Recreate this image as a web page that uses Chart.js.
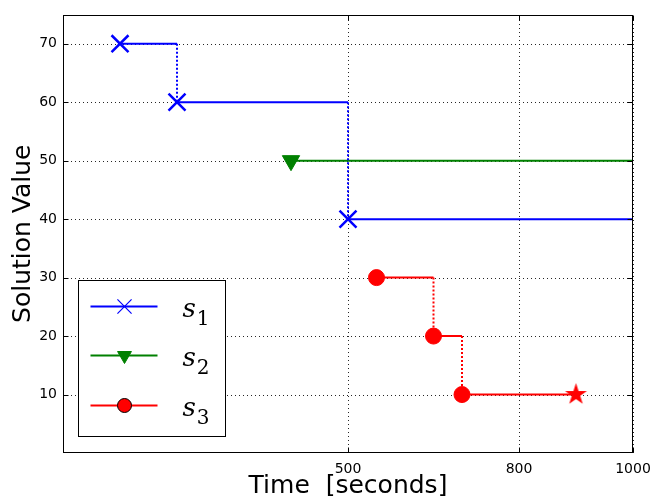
<!DOCTYPE html>
<html>
<head>
<meta charset="utf-8">
<script src="https://cdn.jsdelivr.net/npm/chart.js@4.4.0/dist/chart.umd.min.js"></script>
<style>
    html, body { margin: 0; padding: 0; background: #fff; }
    #wrap { width: 654px; height: 502px; }
</style>
</head>
<body>
<div id="wrap"><canvas id="chart"></canvas></div>
<script>
// times (seconds) where each solver found a better solution, and the value found
var s1Times = [100, 200, 500];
var s1Values = [70, 60, 40];
var s2Times = [400];
var s2Values = [50];
var s3Times = [550, 650, 700];
var s3Values = [30, 20, 10];
// time where each series stops
var seriesEnds = [1000, 1000, 900];
var seriesNames = ['1', '2', '3'];
var xTickValues = [500, 800, 1000];
var yTickValues = [10, 20, 30, 40, 50, 60, 70];

var colors = ['#0000ff', '#008000', '#ff0000'];
var markers = [
    { style: 'crossRot', radius: 12, rotation: 0, border: 2.5, legendRadius: 10, legendBorder: 1.2, edge: '#0000ff' },
    { style: 'triangle', radius: 10, rotation: 180, border: 1, legendRadius: 8, legendBorder: 1, edge: '#008000' },
    { style: 'circle', radius: 8, rotation: 0, border: 1, legendRadius: 7, legendBorder: 1, edge: '#000' }
];

function makeStar(color, outer, inner) {
    var c = document.createElement('canvas');
    var size = Math.ceil(outer * 2 + 2);
    c.width = size;
    c.height = size;
    var g = c.getContext('2d');
    g.translate(size / 2, size / 2);
    g.beginPath();
    for (var i = 0; i < 10; i++) {
        var r = i % 2 === 0 ? outer : inner;
        var a = -Math.PI / 2 + i * Math.PI / 5;
        g.lineTo(r * Math.cos(a), r * Math.sin(a));
    }
    g.closePath();
    g.fillStyle = color;
    g.fill();
    return c;
}
var star = makeStar('#ff0000', 11.5, 4.4);

// horizontal parts of the step line, broken by gaps
function flatParts(times, values, end, endMark) {
    var pts = [];
    for (var i = 0; i < times.length; i++) {
        var next = i + 1 < times.length ? times[i + 1] : end;
        pts.push({ x: times[i], y: values[i], mark: true });
        pts.push({ x: next, y: values[i], mark: false, last: i === times.length - 1 && endMark });
        if (i + 1 < times.length) pts.push({ x: next, y: null });
    }
    return pts;
}

// vertical drops between improvements
function dropParts(times, values) {
    var pts = [];
    for (var i = 1; i < times.length; i++) {
        pts.push({ x: times[i], y: values[i - 1] });
        pts.push({ x: times[i], y: values[i] });
        if (i + 1 < times.length) pts.push({ x: times[i], y: null });
    }
    return pts;
}

var allTimes = [s1Times, s2Times, s3Times];
var allValues = [s1Values, s2Values, s3Values];

var datasets = [];
allTimes.forEach(function (times, i) {
    var m = markers[i];
    datasets.push({
        label: 's' + seriesNames[i],
        data: flatParts(times, allValues[i], seriesEnds[i], i === 2),
        showLine: true,
        spanGaps: false,
        borderColor: colors[i],
        backgroundColor: colors[i],
        borderWidth: 2,
        pointStyle: function (ctx) { return ctx.raw && ctx.raw.last ? star : m.style; },
        pointRadius: function (ctx) {
            if (!ctx.raw) return 0;
            if (ctx.raw.last) return 10;
            return ctx.raw.mark ? m.radius : 0;
        },
        pointRotation: m.rotation,
        pointBorderWidth: m.border,
        pointBorderColor: colors[i],
        pointBackgroundColor: colors[i]
    });
    if (times.length > 1) {
        datasets.push({
            label: 's' + seriesNames[i] + ' drops',
            data: dropParts(times, allValues[i]),
            showLine: true,
            spanGaps: false,
            borderColor: colors[i],
            borderWidth: 2,
            borderDash: [2, 2],
            pointRadius: 0
        });
    }
});

// dotted grid under the data
var gridPlugin = {
    id: 'dotgrid',
    beforeDatasetsDraw: function (chart) {
        var ctx = chart.ctx;
        var a = chart.chartArea;
        var xs = chart.scales.x, ys = chart.scales.y;
        ctx.save();
        ctx.strokeStyle = 'rgba(0,0,0,0.85)';
        ctx.lineWidth = 1;
        ctx.setLineDash([1, 3]);
        ctx.beginPath();
        yTickValues.forEach(function (v) {
            var y = Math.round(ys.getPixelForValue(v)) + 0.5;
            ctx.moveTo(a.left, y); ctx.lineTo(a.right, y);
        });
        xTickValues.forEach(function (v) {
            var x = Math.round(xs.getPixelForValue(v)) + 0.5;
            ctx.moveTo(x, a.bottom); ctx.lineTo(x, a.top);
        });
        ctx.stroke();
        ctx.restore();
    }
};

// frame, inward tick marks and the legend box
var framePlugin = {
    id: 'frame',
    afterDraw: function (chart) {
        var ctx = chart.ctx;
        var a = chart.chartArea;
        var xs = chart.scales.x, ys = chart.scales.y;
        var l = Math.round(a.left) + 0.5, r = Math.round(a.right) - 0.5;
        var t = Math.round(a.top) + 0.5, b = Math.round(a.bottom) - 0.5;
        ctx.save();
        ctx.strokeStyle = '#000';
        ctx.lineWidth = 1;
        ctx.strokeRect(l, t, r - l, b - t);
        ctx.beginPath();
        yTickValues.forEach(function (v) {
            var y = Math.round(ys.getPixelForValue(v)) + 0.5;
            ctx.moveTo(l, y); ctx.lineTo(l + 5, y);
            ctx.moveTo(r, y); ctx.lineTo(r - 5, y);
        });
        xTickValues.forEach(function (v) {
            var x = Math.round(xs.getPixelForValue(v)) + 0.5;
            ctx.moveTo(x, b); ctx.lineTo(x, b - 5);
            ctx.moveTo(x, t); ctx.lineTo(x, t + 5);
        });
        ctx.stroke();

        // legend
        var bx = Math.round(a.left) + 15.5, by = Math.round(a.bottom) - 172.5;
        ctx.fillStyle = '#fff';
        ctx.fillRect(bx, by, 147, 156);
        ctx.strokeRect(bx, by, 147, 156);
        var rows = [26, 75, 125];
        for (var i = 0; i < 3; i++) {
            var y = by + rows[i];
            ctx.strokeStyle = colors[i];
            ctx.lineWidth = 2;
            ctx.setLineDash([]);
            ctx.beginPath();
            ctx.moveTo(bx + 12, y);
            ctx.lineTo(bx + 79, y);
            ctx.stroke();
            ctx.fillStyle = colors[i];
            ctx.strokeStyle = markers[i].edge;
            ctx.lineWidth = markers[i].legendBorder;
            Chart.helpers.drawPoint(ctx, {
                pointStyle: markers[i].style,
                rotation: markers[i].rotation,
                radius: markers[i].legendRadius,
                borderWidth: markers[i].legendBorder
            }, bx + 46, y);
            ctx.fillStyle = '#000';
            ctx.textAlign = 'left';
            ctx.textBaseline = 'alphabetic';
            ctx.font = 'italic 26px "DejaVu Serif"';
            ctx.fillText('s', bx + 104, y + 10);
            var w = ctx.measureText('s').width;
            ctx.font = '20px "DejaVu Serif"';
            ctx.fillText(seriesNames[i], bx + 104 + w + 1, y + 18);
        }
        ctx.restore();
    }
};

Chart.defaults.font.family = '"DejaVu Sans"';
Chart.defaults.color = '#000';

new Chart(document.getElementById('chart'), {
    type: 'scatter',
    data: { datasets: datasets },
    options: {
        responsive: true,
        maintainAspectRatio: false,
        animation: false,
        events: [],
        layout: { padding: { left: 0, top: 11, right: 21, bottom: 0 } },
        plugins: {
            legend: { display: false },
            tooltip: { enabled: false }
        },
        scales: {
            x: {
                type: 'linear',
                min: 0,
                max: 1000,
                afterBuildTicks: function (s) { s.ticks = xTickValues.map(function (v) { return { value: v }; }); },
                afterFit: function (s) { s.height = 49; s.paddingLeft = 0; s.paddingRight = 0; },
                ticks: {
                    font: { size: 14 }, padding: 8, maxRotation: 0, autoSkip: false,
                    callback: function (v) { return String(v); }
                },
                grid: { display: false, drawTicks: false },
                border: { display: false },
                title: { display: true, text: 'Time  [seconds]', font: { size: 25 }, padding: { top: 0, bottom: 1 } }
            },
            y: {
                type: 'linear',
                min: 0,
                max: 75,
                afterBuildTicks: function (s) { s.ticks = yTickValues.map(function (v) { return { value: v }; }); },
                afterFit: function (s) {
                    s.width = 63;
                    s.paddingTop = 0;
                    s.paddingBottom = 0;
                    if (s._margins) { s._margins.top = 0; s._margins.bottom = 0; }
                },
                // label gap comes from tickLength so it does not add top padding
                ticks: { font: { size: 14, lineHeight: 0.6 }, padding: 0 },
                grid: { display: false, drawTicks: true, tickLength: 6 },
                border: { display: false },
                title: { display: true, text: 'Solution Value', font: { size: 25 }, padding: { top: 8, bottom: 0 } }
            }
        }
    },
    plugins: [gridPlugin, framePlugin]
});
</script>
</body>
</html>
